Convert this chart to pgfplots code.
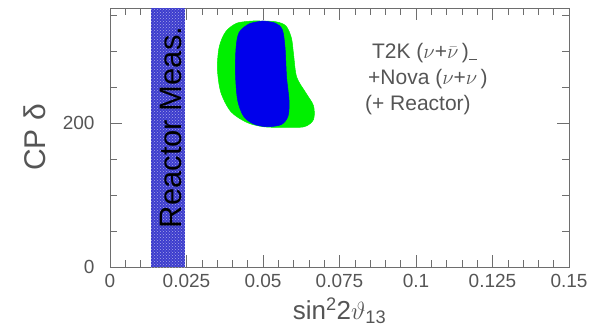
\documentclass[border=0pt]{standalone}
\usepackage{pgfplots}
\pgfplotsset{compat=1.18}
\usepackage{fontspec}
\setmainfont{Liberation Sans}
\usetikzlibrary{patterns}
\definecolor{txt}{RGB}{85,85,85}
\definecolor{frame}{RGB}{110,110,110}
\definecolor{band}{RGB}{60,60,205}
\definecolor{cgreen}{RGB}{0,240,0}
\definecolor{cblue}{RGB}{0,0,235}
\begin{document}
\begin{tikzpicture}
\begin{axis}[
  name=ax,
  scale only axis,
  width=459pt, height=259pt,
  xmin=0, xmax=0.15, ymin=0, ymax=360,
  xtick={0,0.025,0.05,0.075,0.1,0.125,0.15},
  xticklabels={0,0.025,0.05,0.075,0.1,0.125,0.15},
  minor x tick num=4,
  ytick={0,200},
  minor ytick={50,100,150,250,300,350},
  tick pos=both,
  tick align=inside,
  major tick length=12pt,
  minor tick length=7pt,
  axis line style={frame, line width=0.8pt},
  every tick/.style={frame, line width=0.6pt},
  ticklabel style={font=\fontsize{19}{21}\selectfont, text=txt},
  xticklabel shift=4pt,
  yticklabel shift=12pt,
  /pgf/number format/assume math mode=true,
  xlabel={sin\textsuperscript{2}2$\vartheta$\textsubscript{13}},
  ylabel={CP δ},
  xlabel style={font=\fontsize{26}{28}\selectfont, text=txt, at={(axis description cs:0.5,-0.17)}, anchor=center},
  ylabel style={font=\fontsize{30}{33}\selectfont, text=txt, at={(axis description cs:-0.163,0.5)}, anchor=center},
  clip=true,
]
% reactor band
\addplot[draw=none, fill=band, postaction={pattern=crosshatch dots, pattern color=white!55!band}]
  coordinates {(0.0134,0) (0.0245,0) (0.0245,360) (0.0134,360)} -- cycle;
% green contour
\addplot[smooth, draw=cgreen, fill=cgreen, line width=0.5pt] coordinates {
(0.0470,342) (0.0540,341) (0.0575,335) (0.0593,318) (0.0600,295) (0.0610,264) (0.0640,242)
(0.0665,224) (0.0665,205) (0.0635,195) (0.0566,194) (0.0501,195) (0.0447,201)
(0.0395,216) (0.0362,243) (0.0351,276) (0.0357,306) (0.0378,327) (0.0415,339) (0.0470,342)
} -- cycle;
% blue contour
\addplot[smooth, draw=cblue, fill=cblue, line width=0.5pt] coordinates {
(0.0500,342) (0.0540,339) (0.0563,330) (0.0572,305) (0.0577,264) (0.0585,232)
(0.0582,210) (0.0560,198) (0.0512,195) (0.0468,199) (0.0436,210) (0.0417,232)
(0.0410,269) (0.0412,305) (0.0422,326) (0.0455,338) (0.0500,342)
} -- cycle;
\node[rotate=90, font=\fontsize{31}{31}\selectfont, text=black] at (axis cs:0.0199,194) {Reactor Meas.};
\node[anchor=base west, font=\fontsize{21}{23}\selectfont, text=txt, inner sep=0pt] at (axis cs:0.0856,290)
  {T2K ($\nu$+$\bar{\nu}$\,)\rule[-2pt]{8pt}{1pt}};
\node[anchor=base west, font=\fontsize{21}{23}\selectfont, text=txt, inner sep=0pt] at (axis cs:0.0843,253)
  {+Nova ($\nu$+$\nu$\,)};
\node[anchor=base west, font=\fontsize{21}{23}\selectfont, text=txt, inner sep=0pt] at (axis cs:0.0833,218)
  {(+ Reactor)};
\end{axis}
\pgfresetboundingbox
\path ([shift={(-110pt,-68pt)}]ax.south west) rectangle ([shift={(30pt,8pt)}]ax.north east);
\end{tikzpicture}
\end{document}
